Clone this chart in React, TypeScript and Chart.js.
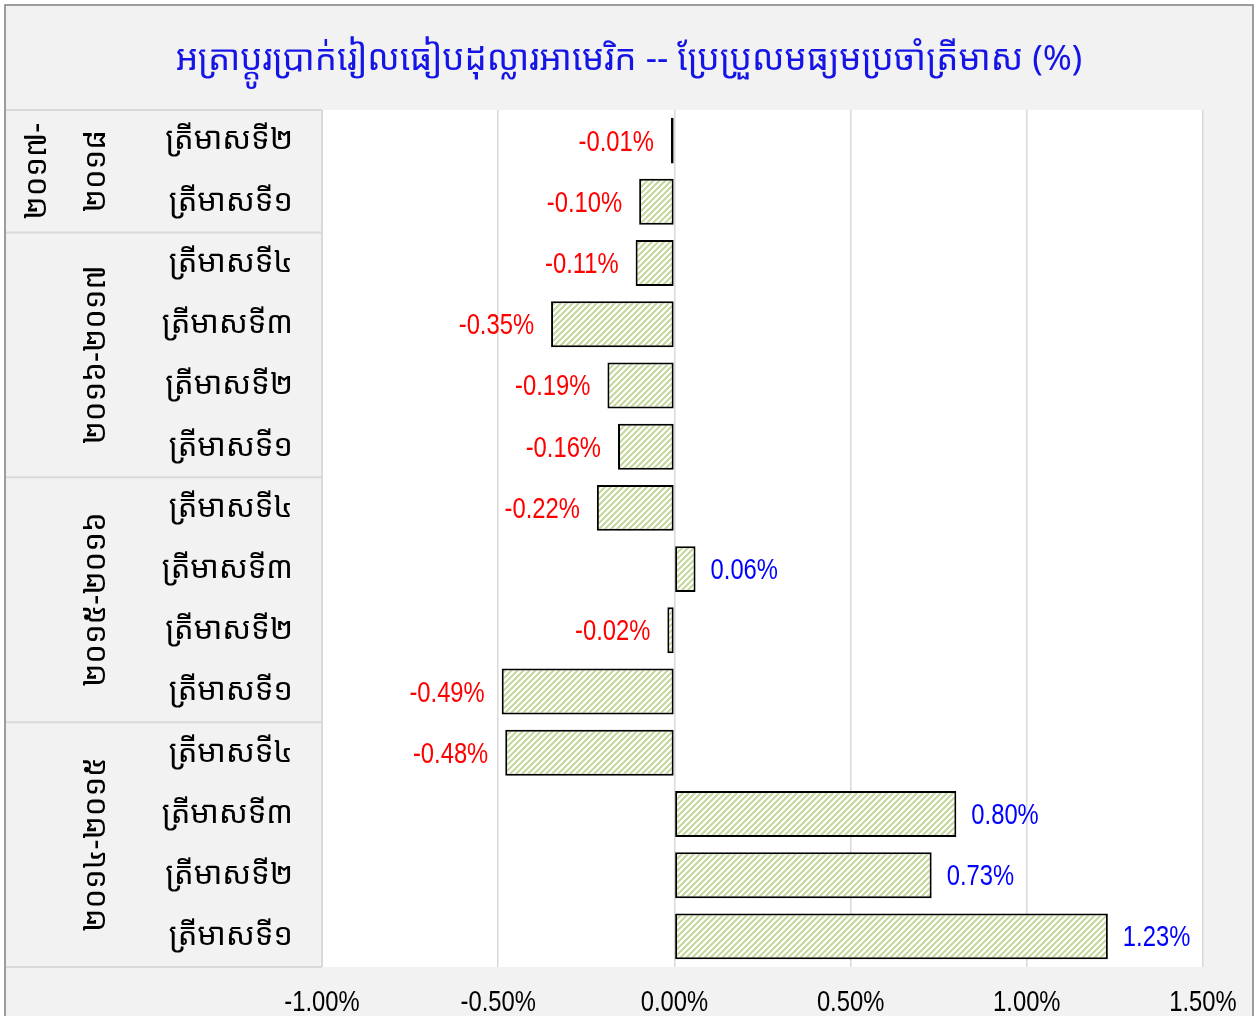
import React, { useEffect, useRef } from "react";
import { Chart, registerables } from "chart.js";

Chart.register(...registerables);

const titleText = "អត្រាប្តូរប្រាក់រៀលធៀបដុល្លារអាមេរិក -- ប្រែប្រួលមធ្យមប្រចាំត្រីមាស (%)";
const quarterLabels = [
  "ត្រីមាសទី២", "ត្រីមាសទី១",
  "ត្រីមាសទី៤", "ត្រីមាសទី៣", "ត្រីមាសទី២", "ត្រីមាសទី១",
  "ត្រីមាសទី៤", "ត្រីមាសទី៣", "ត្រីមាសទី២", "ត្រីមាសទី១",
  "ត្រីមាសទី៤", "ត្រីមាសទី៣", "ត្រីមាសទី២", "ត្រីមាសទី១",
];
const values = [-0.01, -0.10, -0.11, -0.35, -0.19, -0.16, -0.22, 0.06, -0.02, -0.49, -0.48, 0.80, 0.73, 1.23];
const groupLabels = [["២០១៧-", "២០១៨"], ["២០១៦-២០១៧"], ["២០១៥-២០១៦"], ["២០១៤-២០១៥"]];
const groupSizes = [2, 4, 4, 4];
const xTicks = [-1.0, -0.5, 0.0, 0.5, 1.0, 1.5];

const KHMER = "'Khmer OS', 'Khmer OS System', 'Noto Sans Khmer', 'Noto Serif Khmer', 'Hanuman', 'Battambang', sans-serif";
const NARROW = "'Liberation Sans Narrow', 'Arial Narrow', 'Liberation Sans', sans-serif";
const NARROW_SCALE = 0.82;

function makePattern(): CanvasPattern | string {
  const c = document.createElement("canvas");
  c.width = 6;
  c.height = 6;
  const g = c.getContext("2d");
  if (!g) return "#c4d79b";
  g.fillStyle = "#ffffff";
  g.fillRect(0, 0, 6, 6);
  g.strokeStyle = "#c4d79b";
  g.lineWidth = 2;
  g.beginPath();
  g.moveTo(-1, 7); g.lineTo(7, -1);
  g.moveTo(-4, 4); g.lineTo(4, -4);
  g.moveTo(2, 10); g.lineTo(10, 2);
  g.stroke();
  const p = g.createPattern(c, "repeat");
  return p || "#c4d79b";
}

function narrowText(ctx: CanvasRenderingContext2D, txt: string, x: number, y: number, align: "left" | "right" | "center") {
  ctx.save();
  ctx.translate(x, y);
  ctx.scale(NARROW_SCALE, 1);
  ctx.textAlign = align;
  ctx.fillText(txt, 0, 0);
  ctx.restore();
}

const framePlugin = {
  id: "framePlugin",
  beforeDraw(chart: any) {
    const { ctx, chartArea } = chart;
    const W = chart.width, H = chart.height;
    ctx.save();
    ctx.fillStyle = "#ffffff";
    ctx.fillRect(0, 0, W, H);
    ctx.fillStyle = "#f2f2f2";
    ctx.fillRect(5, 5, 1248, H);
    ctx.fillStyle = "#ffffff";
    ctx.fillRect(chartArea.left, chartArea.top, chartArea.right - chartArea.left, chartArea.bottom - chartArea.top);
    ctx.strokeStyle = "#7f7f7f";
    ctx.lineWidth = 1.5;
    ctx.strokeRect(5, 5, 1248, H + 20);
    // title
    ctx.fillStyle = "#1414e6";
    ctx.font = `35px ${KHMER}`;
    ctx.textAlign = "center";
    ctx.textBaseline = "middle";
    ctx.fillText(titleText, 629, 60);
    ctx.restore();
  },
  afterDraw(chart: any) {
    const { ctx, chartArea } = chart;
    const xScale = chart.scales.x;
    const n = quarterLabels.length;
    const rowH = (chartArea.bottom - chartArea.top) / n;
    ctx.save();
    ctx.strokeStyle = "#d9d9d9";
    ctx.lineWidth = 2;
    ctx.beginPath();
    ctx.moveTo(chartArea.left, chartArea.top);
    ctx.lineTo(chartArea.left, chartArea.bottom);
    ctx.stroke();
    let idx = 0;
    const bounds = [0];
    groupSizes.forEach((s) => { idx += s; bounds.push(idx); });
    bounds.forEach((b) => {
      const y = chartArea.top + rowH * b;
      ctx.beginPath();
      ctx.moveTo(6, y);
      ctx.lineTo(chartArea.left, y);
      ctx.stroke();
    });
    // group labels
    ctx.fillStyle = "#000000";
    ctx.font = `31px ${KHMER}`;
    ctx.textAlign = "center";
    ctx.textBaseline = "middle";
    groupLabels.forEach((lines, gi) => {
      const y0 = chartArea.top + rowH * bounds[gi];
      const y1 = chartArea.top + rowH * bounds[gi + 1];
      const cy = (y0 + y1) / 2;
      lines.forEach((t, li) => {
        const cx = lines.length === 1 ? 96 : li === 0 ? 37 : 96;
        ctx.save();
        ctx.translate(cx, cy);
        ctx.rotate(-Math.PI / 2);
        ctx.fillText(t, 0, 0);
        ctx.restore();
      });
    });
    // x tick labels
    ctx.fillStyle = "#000000";
    ctx.font = `29px ${NARROW}`;
    ctx.textBaseline = "middle";
    xTicks.forEach((v) => {
      narrowText(ctx, `${v.toFixed(2)}%`, xScale.getPixelForValue(v), 1003, "center");
    });
    // data labels
    const meta = chart.getDatasetMeta(0);
    meta.data.forEach((bar: any, i: number) => {
      const v = values[i];
      const txt = `${v.toFixed(2)}%`;
      if (v < 0) {
        ctx.fillStyle = "#ff0000";
        narrowText(ctx, txt, bar.x - 17, bar.y + 2, "right");
      } else {
        ctx.fillStyle = "#0000ff";
        narrowText(ctx, txt, bar.x + 15, bar.y + 2, "left");
      }
    });
    ctx.restore();
  },
};

export default function App() {
  const ref = useRef<HTMLCanvasElement | null>(null);
  useEffect(() => {
    if (!ref.current) return;
    const pattern = makePattern();
    const chart = new Chart(ref.current, {
      type: "bar",
      data: {
        labels: quarterLabels,
        datasets: [
          {
            data: values,
            backgroundColor: pattern as any,
            borderColor: "#000000",
            borderWidth: 2,
            borderSkipped: false,
            barPercentage: 0.75,
            categoryPercentage: 1,
          },
        ],
      },
      options: {
        indexAxis: "y",
        responsive: false,
        animation: false,
        layout: { padding: { left: 0, top: 110, right: 56, bottom: 0 } },
        plugins: { legend: { display: false }, tooltip: { enabled: false }, title: { display: false } },
        scales: {
          x: {
            min: -1,
            max: 1.5,
            afterBuildTicks: (s: any) => { s.ticks = xTicks.map((v) => ({ value: v })); },
            afterFit: (s: any) => { s.height = 49; },
            grid: { color: "#d9d9d9", lineWidth: 1.5, drawTicks: false },
            border: { display: false },
            ticks: { display: false },
          },
          y: {
            afterFit: (s: any) => { s.width = 322; },
            grid: { display: false },
            border: { display: false },
            ticks: {
              padding: 21,
              color: "#000000",
              font: { family: KHMER, size: 31 },
            },
          },
        },
      },
      plugins: [framePlugin],
    });
    return () => chart.destroy();
  }, []);
  return (
    <div style={{ position: "fixed", left: 0, top: 0, width: 1259, height: 1016 }}>
      <canvas ref={ref} width={1259} height={1016} />
    </div>
  );
}
